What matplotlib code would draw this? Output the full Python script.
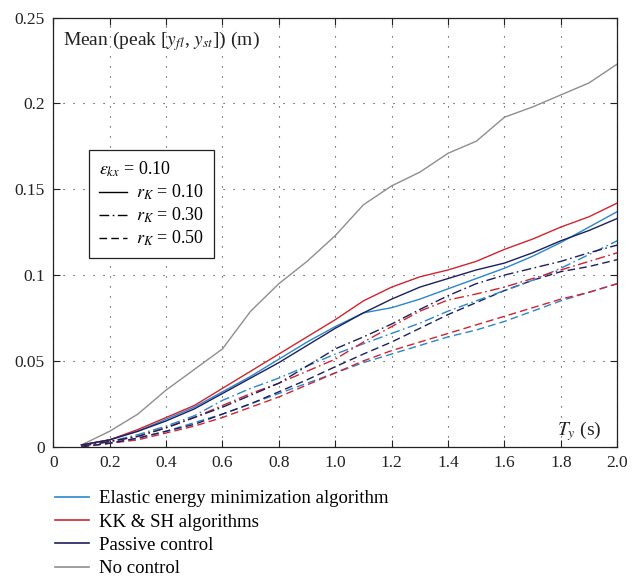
import matplotlib
matplotlib.use("Agg")
import matplotlib.pyplot as plt
from matplotlib.lines import Line2D

# Period T_y (s)
t_y = [0.1, 0.2, 0.3, 0.4, 0.5, 0.6, 0.7, 0.8, 0.9, 1.0,
       1.1, 1.2, 1.3, 1.4, 1.5, 1.6, 1.7, 1.8, 1.9, 2.0]

# Mean peak displacement (m)
no_control = [0.001, 0.009, 0.019, 0.033, 0.045, 0.057, 0.079, 0.095, 0.108, 0.123,
              0.141, 0.152, 0.160, 0.171, 0.178, 0.192, 0.198, 0.205, 0.212, 0.223]

elastic_r010 = [0.001, 0.004, 0.009, 0.016, 0.023, 0.032, 0.041, 0.051, 0.061, 0.070,
                0.078, 0.081, 0.086, 0.092, 0.098, 0.104, 0.111, 0.119, 0.128, 0.137]
elastic_r030 = [0.0005, 0.003, 0.007, 0.012, 0.018, 0.027, 0.034, 0.040, 0.047, 0.054,
                0.060, 0.066, 0.072, 0.079, 0.085, 0.091, 0.097, 0.104, 0.112, 0.120]
elastic_r050 = [0.0, 0.002, 0.005, 0.009, 0.014, 0.019, 0.025, 0.031, 0.037, 0.043,
                0.049, 0.054, 0.059, 0.064, 0.068, 0.073, 0.079, 0.085, 0.090, 0.095]

kksh_r010 = [0.001, 0.004, 0.010, 0.017, 0.024, 0.034, 0.044, 0.054, 0.064, 0.074,
             0.085, 0.093, 0.099, 0.103, 0.108, 0.115, 0.121, 0.128, 0.134, 0.142]
kksh_r030 = [0.0005, 0.003, 0.006, 0.011, 0.017, 0.024, 0.031, 0.037, 0.044, 0.051,
             0.061, 0.070, 0.079, 0.0855, 0.089, 0.093, 0.098, 0.103, 0.108, 0.113]
kksh_r050 = [0.0, 0.002, 0.004, 0.008, 0.012, 0.017, 0.023, 0.029, 0.036, 0.043,
             0.050, 0.056, 0.061, 0.066, 0.071, 0.076, 0.081, 0.086, 0.090, 0.095]

passive_r010 = [0.001, 0.004, 0.009, 0.015, 0.022, 0.031, 0.040, 0.049, 0.059, 0.069,
                0.078, 0.086, 0.093, 0.098, 0.103, 0.107, 0.113, 0.120, 0.126, 0.133]
passive_r030 = [0.0005, 0.003, 0.006, 0.011, 0.017, 0.023, 0.030, 0.037, 0.047, 0.057,
                0.064, 0.0715, 0.080, 0.088, 0.095, 0.100, 0.104, 0.108, 0.113, 0.1175]
passive_r050 = [0.0, 0.002, 0.005, 0.009, 0.013, 0.019, 0.025, 0.032, 0.039, 0.0466,
                0.054, 0.061, 0.069, 0.077, 0.084, 0.091, 0.097, 0.102, 0.105, 0.109]

x_ticks = [0, 0.2, 0.4, 0.6, 0.8, 1.0, 1.2, 1.4, 1.6, 1.8, 2.0]
x_tick_labels = ["0", "0.2", "0.4", "0.6", "0.8", "1.0", "1.2", "1.4", "1.6", "1.8", "2.0"]
y_ticks = [0, 0.05, 0.1, 0.15, 0.2, 0.25]
y_tick_labels = ["0", "0.05", "0.1", "0.15", "0.2", "0.25"]

plt.rcParams["font.family"] = ["Liberation Serif", "DejaVu Serif"]
plt.rcParams["mathtext.fontset"] = "stix"

C_BLUE = "#2a86cc"
C_RED = "#d2232f"
C_NAVY = "#1c1f5e"
C_GRAY = "#8e8e8e"

LS_SOLID = "-"
LS_DASHDOT = (0, (7, 2.5, 1.2, 2.5))
LS_DASHED = (0, (5.5, 3))

fig = plt.figure(figsize=(6.39, 5.76), dpi=100)
ax = fig.add_axes([0.0834, 0.2245, 0.8826, 0.7448])

lw = 1.0
ax.plot(t_y, no_control, color=C_GRAY, lw=lw, ls=LS_SOLID)

for data, color in [(elastic_r050, C_BLUE), (kksh_r050, C_RED), (passive_r050, C_NAVY)]:
    ax.plot(t_y, data, color=color, lw=lw, ls=LS_DASHED)
for data, color in [(elastic_r030, C_BLUE), (kksh_r030, C_RED), (passive_r030, C_NAVY)]:
    ax.plot(t_y, data, color=color, lw=lw, ls=LS_DASHDOT)
for data, color in [(elastic_r010, C_BLUE), (kksh_r010, C_RED), (passive_r010, C_NAVY)]:
    ax.plot(t_y, data, color=color, lw=lw, ls=LS_SOLID)

ax.set_xlim(0, 2.0)
ax.set_ylim(0, 0.25)
ax.set_xticks(x_ticks)
ax.set_xticklabels(x_tick_labels)
ax.set_yticks(y_ticks)
ax.set_yticklabels(y_tick_labels)
ax.tick_params(direction="in", top=True, right=True, length=5, width=0.8,
               labelsize=12.5, pad=6, colors="#222222")
for sp in ax.spines.values():
    sp.set_linewidth(0.9)
    sp.set_color("#222222")
ax.grid(True, color="#333333", lw=0.8, ls=(0, (1, 8)))

ax.text(0.018, 0.945, r"Mean (peak [$y_{fl}$, $y_{st}$]) (m)", transform=ax.transAxes,
        fontsize=14, ha="left", va="center", color="#222222")
ax.text(0.972, 0.036, r"$T_y$ (s)", transform=ax.transAxes,
        fontsize=14, ha="right", va="center", color="#222222")

# Line-style key for the stiffness ratio
style_handles = [
    Line2D([], [], color="black", lw=1.0, ls=LS_SOLID),
    Line2D([], [], color="black", lw=1.0, ls=LS_DASHDOT),
    Line2D([], [], color="black", lw=1.0, ls=LS_DASHED),
]
style_labels = [r"$r_K$ = 0.10", r"$r_K$ = 0.30", r"$r_K$ = 0.50"]
leg = ax.legend(style_handles, style_labels, title=r"$\varepsilon_{kx}$ = 0.10",
                loc="upper left", bbox_to_anchor=(0.0638, 0.6916), borderaxespad=0,
                fontsize=13, title_fontsize=13, alignment="left", fancybox=False,
                edgecolor="#222222", framealpha=1, handlelength=1.55,
                handletextpad=0.5, labelspacing=0.2, borderpad=0.55)
leg.get_frame().set_linewidth(0.9)

# Colour key for the control strategies
color_handles = [
    Line2D([], [], color=C_BLUE, lw=1.2),
    Line2D([], [], color=C_RED, lw=1.2),
    Line2D([], [], color=C_NAVY, lw=1.2),
    Line2D([], [], color=C_GRAY, lw=1.2),
]
color_labels = ["Elastic energy minimization algorithm", "KK & SH algorithms",
                "Passive control", "No control"]
fig.legend(color_handles, color_labels, loc="upper left", bbox_to_anchor=(0.086, 0.149),
           frameon=False, fontsize=13.5, handlelength=1.8, handletextpad=0.55,
           labelspacing=0.33, borderpad=0.0, borderaxespad=0)

fig.savefig("out.png", dpi=100)
